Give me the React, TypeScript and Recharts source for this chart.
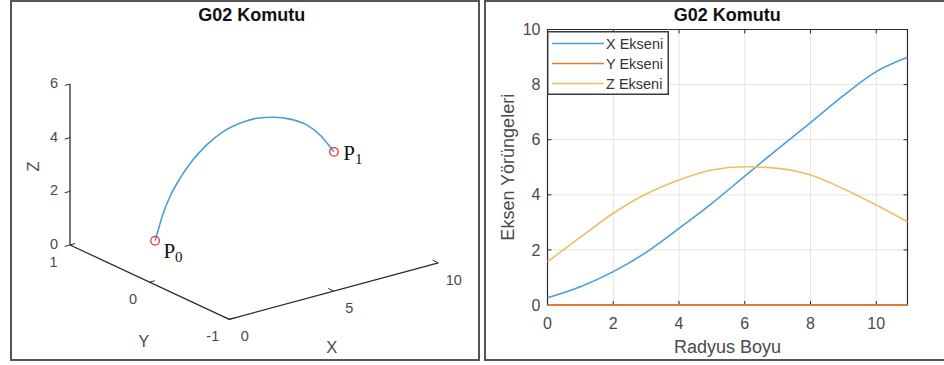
import React from 'react';
import {
  ComposedChart,
  Scatter,
  LineChart,
  Line,
  XAxis,
  YAxis,
  CartesianGrid,
  Legend,
  ReferenceArea,
  ReferenceLine,
} from 'recharts';

// right panel: axis trajectories against radius length
const radyus = [0, 1, 2, 3, 4, 5, 6, 7, 8, 9, 10, 10.95];
const xEkseni = [0.26, 0.66, 1.21, 1.91, 2.78, 3.69, 4.68, 5.66, 6.62, 7.6, 8.47, 8.99];
const yEkseni = [0, 0, 0, 0, 0, 0, 0, 0, 0, 0, 0, 0];
const zEkseni = [1.57, 2.46, 3.33, 4.03, 4.54, 4.9, 5.02, 4.96, 4.72, 4.22, 3.63, 3.02];
const radyusTicks = [0, 2, 4, 6, 8, 10];
const yorungeTicks = [0, 2, 4, 6, 8, 10];

// left panel: the G02 arc in 3D (lies in the y = 0 plane)
const arcX = [0.26, 0.41, 0.65, 0.97, 1.45, 2.01, 2.73, 3.52, 4.32, 5.12, 5.92, 6.72, 7.51, 8.15, 8.63, 8.82];
const arcZ = [1.49, 1.86, 2.43, 2.98, 3.56, 4.07, 4.54, 4.87, 5.01, 5.03, 4.9, 4.66, 4.28, 3.77, 3.23, 3.0];
const ticks3dX = [0, 5, 10];
const ticks3dY = [1, 0, -1];
const ticks3dZ = [0, 2, 4, 6];
const pointNames = ['0', '1'];

const FONT = '"Liberation Sans", Arial, Helvetica, sans-serif';
const SERIF = '"Liberation Serif", "Times New Roman", serif';
const BLUE = '#4a9fd6';
const ORANGE = '#e07b40';
const YELLOW = '#eac163';
const AXIS = '#2b2b2b';
const LABEL = '#4a4a4a';

// orthographic view used for the 3D panel (screen units per data unit, v upward)
const VIEW = { ex: [20.9, 5.65], ey: [-79.65, 37.15], ez: [0, 26.83] };
const project = (x: number, y: number, z: number) => ({
  u: x * VIEW.ex[0] + y * VIEW.ey[0] + z * VIEW.ez[0],
  v: x * VIEW.ex[1] + y * VIEW.ey[1] + z * VIEW.ez[1],
});

const L_W = 468;
const L_H = 360;
const U_DOMAIN = [-138.65, -138.65 + L_W];
const V_DOMAIN = [281.15 - L_H, 281.15];

const R_MAX = 10.95;
const Y_MAX = 10;

const TextMark = (props: any) => {
  const { cx, cy, payload } = props;
  const x = cx + payload.dx;
  const y = cy + payload.dy;
  return (
    <text
      x={x}
      y={y}
      textAnchor="middle"
      dominantBaseline="central"
      fontSize={payload.size}
      fontFamily={FONT}
      fill={LABEL}
      transform={payload.rot ? `rotate(${payload.rot} ${x} ${y})` : undefined}
    >
      {payload.text}
    </text>
  );
};

const PointLabel = (props: any) => {
  const { cx, cy, payload } = props;
  return (
    <text x={cx + payload.dx} y={cy + payload.dy} fontFamily={SERIF} fontSize={21} fill="#111">
      P
      <tspan fontSize={15} dy={4}>
        {payload.text}
      </tspan>
    </text>
  );
};

const Marker = (props: any) => (
  <circle cx={props.cx} cy={props.cy} r={4.3} fill="none" stroke="#e8323c" strokeWidth={1.3} />
);

function Arc3D() {
  const arc = arcX.map((x, i) => project(x, 0, arcZ[i]));
  const ends = [arc[0], arc[arc.length - 1]];
  const seg = (a: { u: number; v: number }, b: { u: number; v: number }) => [
    { x: a.u, y: a.v },
    { x: b.u, y: b.v },
  ];
  const axes = [
    seg(project(0, 1, 0), project(0, 1, 6)),
    seg(project(0, 1, 0), project(0, -1, 0)),
    seg(project(0, -1, 0), project(10, -1, 0)),
  ];
  const tickSegs = [
    ...ticks3dZ.map((z) => seg(project(0, 1, z), project(-0.25, 1, z))),
    ...ticks3dY.map((y) => seg(project(0, y, 0), project(0.25, y, 0))),
    ...ticks3dX.map((x) => seg(project(x, -1, 0), project(x, -0.93, 0))),
  ];
  const labels = [
    ...ticks3dZ.map((z) => ({ ...project(0, 1, z), text: String(z), dx: -16, dy: -1, size: 14.5 })),
    ...ticks3dY.map((y) => ({ ...project(0, y, 0), text: String(y), dx: -16.5, dy: 16.5, size: 14.5 })),
    ...ticks3dX.map((x) => ({ ...project(x, -1, 0), text: String(x), dx: 15.5, dy: 17, size: 14.5 })),
    { ...project(0, 1, 3), text: 'Z', dx: -36.5, dy: 2, size: 16.5, rot: -90 },
    { ...project(0, 0, 0), text: 'Y', dx: -6, dy: 59, size: 16.5 },
    { ...project(5, -1, 0), text: 'X', dx: -2, dy: 56, size: 16.5 },
  ];
  const pLabels = [
    { ...ends[0], text: pointNames[0], dx: 8.3, dy: 17.6 },
    { ...ends[1], text: pointNames[1], dx: 9.3, dy: 8.3 },
  ];

  return (
    <ComposedChart width={L_W} height={L_H} data={arc} margin={{ top: 0, right: 0, bottom: 0, left: 0 }}>
      <XAxis type="number" dataKey="u" domain={U_DOMAIN} hide allowDataOverflow />
      <YAxis type="number" dataKey="v" domain={V_DOMAIN} hide allowDataOverflow />
      {axes.map((s, i) => (
        <ReferenceLine key={'a' + i} segment={s} stroke={AXIS} strokeWidth={1.3} ifOverflow="visible" />
      ))}
      {tickSegs.map((s, i) => (
        <ReferenceLine key={'t' + i} segment={s} stroke={AXIS} strokeWidth={1} ifOverflow="visible" />
      ))}
      <Line
        dataKey="v"
        type="monotone"
        stroke={BLUE}
        strokeWidth={1.6}
        dot={false}
        activeDot={false}
        isAnimationActive={false}
      />
      <Scatter data={ends} shape={Marker} isAnimationActive={false} />
      <Scatter data={labels} shape={TextMark} isAnimationActive={false} />
      <Scatter data={pLabels} shape={PointLabel} isAnimationActive={false} />
    </ComposedChart>
  );
}

const LegendBox = ({ payload }: any) => (
  <svg width={122} height={64} style={{ display: 'block' }}>
    <rect x={0.75} y={0.75} width={120.5} height={62.5} fill="#fff" stroke="#3a3a3a" strokeWidth={1.5} />
    {(payload || []).map((p: any, i: number) => (
      <g key={p.value}>
        <line x1={5} x2={57} y1={12.5 + i * 20} y2={12.5 + i * 20} stroke={p.color} strokeWidth={1.6} />
        <text
          x={59}
          y={12.5 + i * 20}
          dominantBaseline="central"
          fontSize={14.5}
          fontFamily={FONT}
          fill="#333"
        >
          {p.value}
        </text>
      </g>
    ))}
  </svg>
);

function Trajectories() {
  const data = radyus.map((r, i) => ({ r, x: xEkseni[i], y: yEkseni[i], z: zEkseni[i] }));
  const tickStyle = { fontSize: 16, fill: LABEL, fontFamily: FONT };
  // MATLAB-style inward tick marks on all four sides of the box
  const tx = 0.12;
  const ty = 0.145;
  const innerTicks = [
    ...radyusTicks.map((r) => [{ x: r, y: 0 }, { x: r, y: ty }]),
    ...radyusTicks.map((r) => [{ x: r, y: Y_MAX }, { x: r, y: Y_MAX - ty }]),
    ...yorungeTicks.map((v) => [{ x: 0, y: v }, { x: tx, y: v }]),
    ...yorungeTicks.map((v) => [{ x: R_MAX, y: v }, { x: R_MAX - tx, y: v }]),
  ];
  return (
    <LineChart width={460} height={365} data={data} margin={{ top: 29.5, right: 36.5, left: 3.5, bottom: 30 }}>
      <CartesianGrid stroke="#e4e4e4" strokeWidth={1} />
      <ReferenceArea x1={0} x2={R_MAX} y1={0} y2={Y_MAX} fill="none" stroke={AXIS} strokeWidth={1.2} />
      {innerTicks.map((s, i) => (
        <ReferenceLine key={'it' + i} segment={s} stroke={AXIS} strokeWidth={1} ifOverflow="visible" />
      ))}
      <XAxis
        dataKey="r"
        type="number"
        domain={[0, R_MAX]}
        ticks={radyusTicks}
        height={30}
        tickLine={false}
        tickSize={0}
        tickMargin={13}
        axisLine={false}
        tick={tickStyle}
        label={{ value: 'Radyus Boyu', position: 'bottom', offset: 5.7, style: { fontSize: 18, fill: LABEL, fontFamily: FONT } }}
      />
      <YAxis
        type="number"
        domain={[0, Y_MAX]}
        ticks={yorungeTicks}
        width={60}
        tickLine={false}
        tickSize={0}
        tickMargin={7}
        axisLine={false}
        tick={tickStyle}
        label={{
          value: 'Eksen Yörüngeleri',
          angle: -90,
          position: 'insideLeft',
          offset: 20,
          style: { fontSize: 18, fill: LABEL, fontFamily: FONT, textAnchor: 'middle' },
        }}
      />
      <Line type="monotone" dataKey="x" name="X Ekseni" stroke={BLUE} strokeWidth={1.6} dot={false} isAnimationActive={false} />
      <Line type="monotone" dataKey="y" name="Y Ekseni" stroke={ORANGE} strokeWidth={1.8} dot={false} isAnimationActive={false} />
      <Line type="monotone" dataKey="z" name="Z Ekseni" stroke={YELLOW} strokeWidth={1.6} dot={false} isAnimationActive={false} />
      <Legend
        layout="vertical"
        align="center"
        verticalAlign="middle"
        wrapperStyle={{ left: 63, top: 31, width: 122, height: 64 }}
        content={LegendBox}
      />
    </LineChart>
  );
}

const titleStyle: React.CSSProperties = {
  position: 'absolute',
  top: 5,
  width: 200,
  height: 20,
  lineHeight: '20px',
  textAlign: 'center',
  fontFamily: FONT,
  fontWeight: 'bold',
  fontSize: 18,
  color: '#111',
};

export default function App() {
  return (
    <div
      style={{
        position: 'absolute',
        left: 0,
        top: 0,
        width: 944,
        height: 365,
        overflow: 'hidden',
        background: '#fff',
      }}
    >
      <div
        style={{
          position: 'absolute',
          left: 10,
          top: 0,
          width: 470,
          height: 361,
          border: '2px solid #555',
          boxSizing: 'border-box',
        }}
      />
      <div
        style={{
          position: 'absolute',
          left: 483.5,
          top: 0,
          width: 464,
          height: 360.5,
          border: '2px solid #555',
          boxSizing: 'border-box',
        }}
      />
      <div style={{ ...titleStyle, left: 151.7 }}>G02 Komutu</div>
      <div style={{ ...titleStyle, left: 627.3 }}>G02 Komutu</div>
      <div style={{ position: 'absolute', left: 11, top: 1 }}>
        <Arc3D />
      </div>
      <div style={{ position: 'absolute', left: 484, top: 0 }}>
        <Trajectories />
      </div>
    </div>
  );
}
